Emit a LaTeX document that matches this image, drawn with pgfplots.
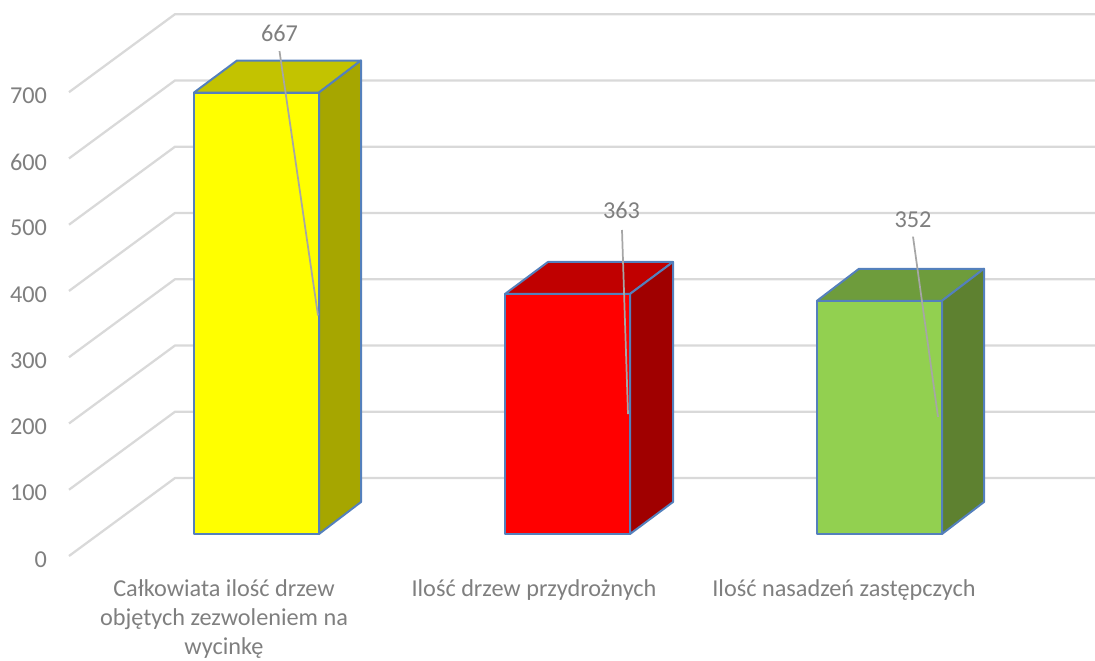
\documentclass[border=0pt]{standalone}
\usepackage{fontspec}
\setmainfont{Carlito}
\usepackage{pgfplots}
\pgfplotsset{compat=1.18}
\definecolor{txt}{HTML}{7F7F7F}
\definecolor{gridc}{HTML}{D9D9D9}
\definecolor{edgec}{HTML}{5480BC}
\definecolor{lead}{HTML}{A6A6A6}
\definecolor{pureyellow}{RGB}{255,255,0}
\begin{document}
\begin{tikzpicture}[x=0.75pt,y=0.75pt]
\useasboundingbox (-69,-104) rectangle (1026,556);
\begin{axis}[
  at={(0,0)},anchor=south west,
  scale only axis,
  width=769.5pt,height=406.5pt,
  xmin=69,xmax=1095,ymin=0,ymax=818,
  clip=false,
  axis line style={draw=none},
  major tick length=0pt,
  ytick={0,100,200,300,400,500,600,700},
  xtick={224,534,844},
  xticklabels={{Całkowiata ilość drzew\\objętych zezwoleniem na\\wycinkę},{Ilość drzew przydrożnych},{Ilość nasadzeń zastępczych}},
  /pgf/number format/assume math mode=true,
  tick label style={font=\fontsize{18.2}{22}\selectfont,text=txt},
  x tick label style={align=center,anchor=north,yshift=-16.3pt,inner sep=1pt},
  y tick label style={anchor=east,xshift=-13pt,yshift=-2.6pt},
  every axis plot/.append style={line join=round},
]
% wall grid lines
\pgfplotsinvokeforeach{0,100,200,300,400,500,600,700}{
  \addplot[gridc,line width=1.7pt] coordinates {(69,#1) (175,#1+117.7) (1095,#1+117.7)};
}
\addplot[gridc,line width=1.7pt] coordinates {(175,817.7) (1095,817.7)};
% yellow bar: 667
\addplot[fill=pureyellow,draw=edgec,line width=1.5pt] coordinates {(194,33.2) (319,33.2) (319,699.5) (194,699.5)} --cycle;
\addplot[fill={rgb,255:red,195;green,195;blue,0},draw=edgec,line width=1.5pt] coordinates {(194,699.5) (319,699.5) (361,747.8) (237,747.8)} --cycle;
\addplot[fill={rgb,255:red,166;green,166;blue,0},draw=edgec,line width=1.5pt] coordinates {(319,33.2) (361,81.5) (361,747.8) (319,699.5)} --cycle;
% red bar: 363
\addplot[fill=red,draw=edgec,line width=1.5pt] coordinates {(505,33.2) (630,33.2) (630,395.5) (505,395.5)} --cycle;
\addplot[fill={rgb,255:red,192;green,0;blue,0},draw=edgec,line width=1.5pt] coordinates {(505,395.5) (630,395.5) (673,443.8) (548,443.8)} --cycle;
\addplot[fill={rgb,255:red,160;green,0;blue,0},draw=edgec,line width=1.5pt] coordinates {(630,33.2) (673,81.5) (673,443.8) (630,395.5)} --cycle;
% green bar: 352
\addplot[fill={rgb,255:red,146;green,208;blue,80},draw=edgec,line width=1.5pt] coordinates {(817,33.2) (942,33.2) (942,385.2) (817,385.2)} --cycle;
\addplot[fill={rgb,255:red,110;green,156;blue,60},draw=edgec,line width=1.5pt] coordinates {(817,385.2) (942,385.2) (984,433.5) (859,433.5)} --cycle;
\addplot[fill={rgb,255:red,94;green,129;blue,48},draw=edgec,line width=1.5pt] coordinates {(942,33.2) (984,81.5) (984,433.5) (942,385.2)} --cycle;
% leader lines
\addplot[lead,line width=1.3pt] coordinates {(279.5,762) (318,363)};
\addplot[lead,line width=1.3pt] coordinates {(622,492) (628,214)};
\addplot[lead,line width=1.3pt] coordinates {(913,482) (938,210)};
% data labels
\node[text=txt,font=\fontsize{18.2}{22}\selectfont] at (axis cs:279.5,789) {667};
\node[text=txt,font=\fontsize{18.2}{22}\selectfont] at (axis cs:621.5,521) {363};
\node[text=txt,font=\fontsize{18.2}{22}\selectfont] at (axis cs:913,507) {352};
\end{axis}
\end{tikzpicture}
\end{document}
